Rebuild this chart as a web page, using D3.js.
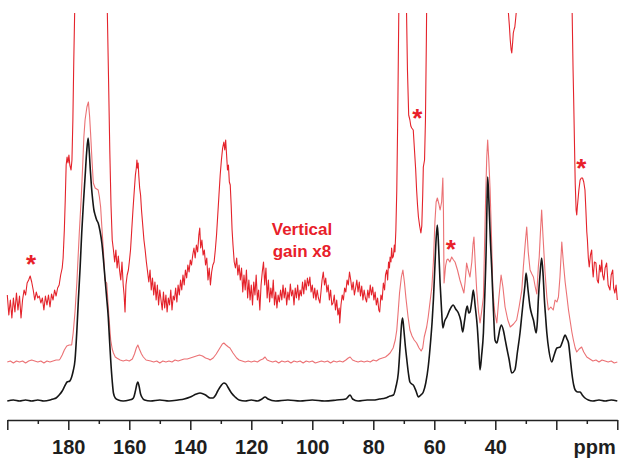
<!DOCTYPE html>
<html>
<head>
<meta charset="utf-8">
<script src="https://cdn.jsdelivr.net/npm/d3@7"></script>
<style>
  html, body { margin: 0; padding: 0; background: #fff; }
  svg { display: block; }
</style>
</head>
<body>
<svg id="chart" width="619" height="458"></svg>
<script>
// ---------------- DATA ----------------
// chemical shift axis
const ppmDomain = [200, 0];
const majorTicks = [200, 180, 160, 140, 120, 100, 80, 60, 40, 20, 0];
const minorTicks = [190, 170, 150, 130, 110, 90, 70, 50, 30, 10];
const tickLabels = [180, 160, 140, 120, 100, 80, 60, 40];
const axisUnit = "ppm";
const gainLabel = ["Vertical", "gain x8"];

// black spectrum [ppm, intensity]
const blackSpectrum = [
  [200,0],[198,1],[196,0],[194,1],[192,0],[190,1],[188,0],[186,1],[185,2],[184,3],[183,6],[182,10],[181,16],
  [180.4,19],[179.5,20],[178.9,24],[178.4,30],[177.8,41],[177.2,70],[176.7,101],[176.1,135],[175.6,168],
  [175,200],[174.5,224],[174,248],[173.5,263],[173.1,248],[172.8,232],[172.4,214],[172,201],[171.6,191],
  [171.2,186],[170.7,181],[170.2,178],[169.6,170],[169,158],[168.5,142],[168,124],[167.5,106],[166.9,84],
  [166.5,62],[166.1,41],[165.6,20],[165.2,8],[164.6,3],[163.6,1],[162,0],[160,1],[159,2],[158.5,4],[158,10],
  [157.5,17],[157.2,19],[156.8,15],[156.3,7],[155.9,4],[155,1],[153,0],[150,1],[147,0],[144,1],[142,2],
  [140,4],[138,7],[136.8,8],[135,6],[133.5,3],[132.5,3],[131.9,5],[131,10],[130,15],[129,18],[128.3,17],
  [127.5,13],[126.5,8],[125.3,4],[124,1],[122,0],[120,1],[118,0],[116.5,2],[115.5,4],[114.5,2],[112,0],
  [108,1],[104,0],[100,1],[96,0],[92,1],[89,2],[87.6,6],[86.8,2],[85,0],[82,1],[80,1],[78,2],[76,3],
  [74.5,5],[73.4,6],[72.6,14],[71.8,28],[71.2,55],[70.7,78],[70.4,83],[70,72],[69.5,55],[69,41],[68.5,28],
  [68,19],[67.4,17],[66.9,16],[66,10],[65.2,4],[64.4,6],[63.6,9],[62.8,18],[62,34],[61.2,60],[60.7,80],
  [60.3,101],[59.8,135],[59.4,162],[59,176],[58.6,155],[58.1,118],[57.6,90],[57.2,73],[56.6,80],[55.9,84],
  [54.8,92],[53.8,96],[53,92],[52.1,88],[51.3,80],[50.7,69],[50.1,80],[49.5,92],[49.2,95],[48.7,88],[48.3,89],
  [47.7,100],[47.2,111],[46.6,95],[45.9,74],[45.4,50],[45,31],[44.5,45],[43.9,68],[43.4,110],[43,151],
  [42.7,200],[42.5,224],[42.1,200],[41.6,160],[41.2,134],[40.6,90],[40.1,61],[39.5,58],[39,64],[38.5,72],
  [38,76],[37.3,70],[36.8,62],[36.3,54],[35.5,42],[34.6,28],[33.6,31],[32.7,50],[31.9,68],[31.3,86],
  [30.8,101],[30.3,115],[29.9,128],[29.3,112],[28.6,94],[28,86],[27.5,81],[26.6,68],[26.2,80],[25.9,101],
  [25.3,128],[24.8,143],[24.3,125],[23.9,101],[23.5,84],[23.1,68],[22.4,50],[21.5,39],[20.8,45],[19.8,53],
  [18.7,54],[17.9,60],[17.1,66],[16.5,62],[16,58],[15.4,42],[14.9,28],[14.3,16],[13.8,11],[13,9],[12.2,9],
  [11.5,6],[10.6,3],[9.5,1],[8,0],[6,1],[4,0],[2,1],[0,0]
];

// thin red spectrum [ppm, intensity]
const redSpectrum = [
  [200,0],[199,1],[198,-1],[197,1],[196,0],[195,1],[194,-1],[193,1],[192,2],[191,1],[190,0],[189,1],[188,-1],
  [187,1],[186,0],[185,1],[184,2],[183,2],[182.7,3],[182,7],[181.3,12],[180.5,16],[179.7,17],[178.9,17],
  [178.4,29],[177.8,50],[177.2,79],[176.8,104],[176.4,129],[175.8,162],[175.3,195],[174.9,225],[174.5,242],
  [173.9,255],[173.4,260],[173,245],[172.7,229],[172.2,200],[171.8,179],[171.2,174],[170.7,173],[170.2,172],
  [169.8,165],[169.4,155],[169,135],[168.5,112],[168,82],[167.7,80],[167.4,79],[166.9,55],[166.5,38],
  [166.1,22],[165.6,13],[165.2,9],[164.6,5],[164.1,4],[163,2],[162,1],[161,2],[160,1],[159,3],[158.3,8],
  [157.7,14],[157.2,17],[156.7,13],[156,8],[155.4,5],[154.5,2],[153,1],[152,0],[151,1],[150,-1],[149,1],
  [148,0],[147,1],[146,0],[145,2],[144,1],[143,2],[142,3],[141,3],[140,4],[139,5],[138,6],[137,7],[136,6],
  [135,4],[134,3],[133.5,2],[132.5,4],[131.5,8],[130.5,13],[129.5,18],[129,19],[128.3,17],[127.5,15],
  [127,14],[126,9],[124.8,4],[124,2],[123,1],[122,0],[121,1],[120,0],[119,1],[118,0],[117,2],[116.2,3],
  [115.5,5],[114.8,2],[114,1],[113,0],[112,1],[111,-1],[110,1],[109,0],[108,1],[107,-1],[106,1],[105,0],
  [104,1],[103,-1],[102,1],[101,0],[100,1],[99,-1],[98,0],[97,1],[96,0],[95,1],[94,-1],[93,1],[92,0],
  [91,1],[90,0],[89,2],[88.2,4],[87.6,5],[86.8,2],[86,1],[85,0],[84,1],[83,0],[82,1],[81,0],[80,2],[79,1],
  [78,3],[77,4],[76,5],[75.2,7],[74.5,9],[73.5,14],[72.8,22],[72.3,32],[71.8,52],[71.4,69],[70.8,85],
  [70.3,92],[69.8,80],[69.3,64],[68.6,45],[68,32],[67.3,26],[66.6,22],[65.8,19],[65,14],[64.3,11],[63.8,14],
  [63.3,25],[62.5,35],[62,45],[61.6,55],[60.8,75],[60.3,100],[59.8,140],[59.4,160],[59,164],[58.5,158],
  [58.1,152],[57.6,160],[57.2,184],[57,150],[56.8,79],[56.3,96],[55.9,102],[55.5,103],[54.9,100],[54.3,105],
  [53.7,102],[53.2,100],[52.4,92],[51.6,82],[50.9,75],[50.3,69],[49.9,80],[49.4,99],[48.9,92],[48.3,85],
  [47.7,100],[47.3,118],[47,125],[46.6,100],[46.1,72],[45.5,50],[45,39],[44.5,50],[43.9,65],[43.5,120],
  [43.1,172],[42.8,205],[42.5,222],[42.1,200],[41.7,172],[41.2,120],[40.8,72],[40.2,50],[39.5,39],[38.8,65],
  [38.1,87],[37.5,75],[36.8,55],[35.9,42],[35.1,35],[34,38],[33,42],[32.2,55],[31.3,72],[30.8,95],[30.2,118],
  [29.7,135],[29.2,110],[28.6,92],[28,88],[27.5,85],[26.9,75],[26.4,68],[25.9,95],[25.6,105],[25.2,130],
  [24.8,152],[24.4,128],[23.7,90],[23.1,65],[22.6,52],[21.8,55],[21,52],[20.4,62],[19.8,60],[19.3,65],
  [18.8,85],[18.2,120],[17.7,100],[17.1,80],[16.5,65],[16,52],[15.5,42],[14.9,30],[14.4,22],[13.8,14],
  [13.3,10],[12.5,13],[11.7,15],[11,10],[10,5],[9,3],[8,1],[7,2],[6,0],[5,2],[4,1],[3,0],[2,1],[1,-1],[0,0]
];

// red spectrum, vertical gain x8 [ppm, intensity]; values above the frame are clipped
const gainSpectrum = [
  [200,5],[199.5,-15],[199,0],[198.5,-18],[198,2],[197.5,-12],[197,7],[196.5,-10],[196,4],[195.5,-18],[195,0],
  [194.5,10],[194,5],[193.5,17],[193,20],[192.5,24],[192,18],[191.5,10],[191,0],[190.5,8],[190,2],[189.5,4],
  [189,-3],[188.5,2],[188,-10],[187.5,4],[187,-5],[186.5,5],[186,-7],[185.5,6],[185,0],[184.5,10],[184,4],
  [183.5,12],[183,15],[182.5,25],[182,32],[181.7,42],[181.3,70],[181,100],[180.7,135],[180.4,143],[180.1,137],
  [179.8,145],[179.5,135],[179.1,130],[178.8,140],[178.5,180],[178.2,240],[177.9,290],[177.6,330],[167.6,330],
  [167.2,287],[166.8,220],[166.4,150],[166,95],[165.6,60],[165.2,50],[164.8,38],[164.4,50],[164,32],[163.6,44],
  [163.2,30],[162.8,20],[162.4,38],[162,15],[161.7,5],[161.4,-12],[161.1,15],[160.7,25],[160.3,30],[160,38],
  [159.6,50],[159.2,70],[158.8,90],[158.4,108],[158,125],[157.7,132],[157.5,140],[157.3,132],[157.1,137],
  [156.9,125],[156.6,112],[156.3,105],[156,90],[155.6,75],[155.2,60],[154.8,50],[154.4,38],[154,28],
  [153.6,18],[153.2,30],[152.8,10],[152.4,22],[152,5],[151.6,18],[151.2,0],[150.8,15],[150.4,-5],[150,10],
  [149.6,0],[149.2,-10],[148.8,8],[148.4,-8],[148,5],[147.6,-12],[147.2,2],[146.8,-5],[146.4,10],[146,-10],
  [145.6,4],[145.2,0],[144.8,12],[144.4,-2],[144,15],[143.6,5],[143.2,20],[142.8,10],[142.4,25],[142,15],
  [141.6,30],[141.2,22],[140.8,35],[140.4,28],[140,40],[139.6,35],[139.2,45],[138.8,52],[138.4,42],[138,55],
  [137.6,48],[137.2,65],[136.9,72],[136.6,52],[136.2,60],[135.8,45],[135.4,50],[135,35],[134.6,42],[134.2,20],
  [133.8,32],[133.4,15],[133,28],[132.6,35],[132.2,38],[131.8,50],[131.4,65],[131,85],[130.6,105],[130.2,125],
  [129.8,140],[129.4,152],[129,158],[128.7,150],[128.4,160],[128.1,145],[127.8,130],[127.5,135],[127.2,118],
  [126.9,115],[126.6,95],[126.3,70],[126,55],[125.6,38],[125.2,32],[124.8,42],[124.4,25],[124,35],[123.6,20],
  [123.2,32],[122.8,8],[122.4,25],[122,10],[121.6,30],[121.2,2],[120.8,20],[120.4,0],[120,15],[119.6,-5],
  [119.2,18],[118.8,5],[118.4,25],[118,0],[117.6,10],[117.2,-10],[116.8,15],[116.4,28],[116,38],[115.6,15],
  [115.2,32],[114.8,2],[114.4,20],[114,-2],[113.6,12],[113.2,2],[112.8,20],[112.4,-5],[112,8],[111.6,-8],
  [111.2,5],[110.8,-2],[110.4,10],[110,0],[109.6,15],[109.2,2],[108.8,12],[108.4,-5],[108,8],[107.6,0],
  [107.2,16],[106.8,4],[106.4,10],[106,-5],[105.6,12],[105.2,2],[104.8,15],[104.4,0],[104,10],[103.6,4],
  [103.2,18],[102.8,6],[102.4,20],[102,10],[101.6,22],[101.2,14],[100.8,23],[100.4,8],[100,15],[99.6,2],
  [99.2,12],[98.8,0],[98.4,10],[98,2],[97.5,-3],[97.1,10],[96.8,20],[96.4,28],[96,15],[95.6,22],[95.2,8],
  [94.8,15],[94.4,0],[94,10],[93.6,-5],[93.2,-3],[92.8,5],[92.4,-10],[92,0],[91.6,-15],[91.2,-8],[91,-23],
  [90.6,-5],[90.2,5],[89.8,0],[89.4,12],[89,8],[88.6,20],[88.2,15],[87.8,28],[87.4,20],[87,10],[86.6,18],
  [86.2,5],[85.8,12],[85.4,20],[85,8],[84.6,18],[84.2,4],[83.8,14],[83.4,0],[83,10],[82.6,2],[82.2,-2],
  [81.8,10],[81.4,2],[81,15],[80.6,5],[80.2,13],[79.8,0],[79.4,8],[79,-5],[78.6,2],[78.2,-10],[77.9,-12],
  [77.5,5],[77.1,0],[76.7,17],[76.3,10],[76,25],[75.6,30],[75.3,20],[75,38],[74.7,32],[74.5,43],[74.2,38],
  [74,52],[73.7,42],[73.4,44],[73.1,55],[72.9,48],[72.6,70],[72.3,110],[72,180],[71.8,240],[71.5,330],
  [69.3,330],[69.1,287],[68.8,230],[68.4,185],[68,180],[67.7,174],[67.4,172],[66.9,170],[66.5,150],[66.1,130],
  [65.8,110],[65.5,95],[65.2,83],[64.8,74],[64.4,67],[64.1,74],[63.8,105],[63.6,133],[63.2,140],[62.9,180],
  [62.6,260],[62.4,330],[35.9,330],[35.7,287],[35.4,275],[35.1,260],[34.8,250],[34.6,247],[34.3,258],
  [34.1,267],[33.8,271],[33.6,273],[33.3,282],[33,292],[32.8,330],[15,330],[14.8,287],[14.5,230],[14.3,200],
  [14,150],[13.8,117],[13.5,90],[13.3,85],[13.1,93],[12.6,110],[12.2,120],[11.8,122],[11.4,122],[11,118],
  [10.6,110],[10.3,90],[10,68],[9.8,60],[9.5,42],[9.2,33],[8.8,45],[8.4,50],[8.1,30],[7.9,23],[7.5,38],
  [7,37],[6.6,20],[6.2,17],[5.8,35],[5.4,28],[5.1,40],[4.8,25],[4.4,20],[4,32],[3.5,37],[3,15],[2.4,10],
  [2,25],[1.5,30],[1.2,12],[0.8,7],[0.4,15],[0,0]
];

// spinning-sideband markers [ppm, intensity on the gain trace scale]
const sidebandMarks = [[192.2, 42], [65.6, 188], [54.6, 57], [11.8, 138]];

// ---------------- DRAWING ----------------
const W = 619, H = 458;
const svg = d3.select("#chart");
const x = d3.scaleLinear().domain(ppmDomain).range([7.3, 617.3]);
const y = d3.scaleLinear().domain([0, 400]).range([401, 1]);
const offsets = { black: 0, red: 39, gain: 101 };

svg.append("defs").append("clipPath").attr("id", "plotClip")
  .append("rect").attr("x", 0).attr("y", 13).attr("width", W).attr("height", 405);

const plot = svg.append("g").attr("clip-path", "url(#plotClip)");

function lineFor(off, curve) {
  return d3.line().x(d => x(d[0])).y(d => y(d[1] + off)).curve(curve);
}

plot.append("path").datum(redSpectrum)
  .attr("d", lineFor(offsets.red, d3.curveLinear))
  .attr("fill", "none").attr("stroke", "#e8585c").attr("stroke-width", 1.1)
  .attr("stroke-opacity", 0.85).attr("stroke-linejoin", "round");

plot.append("path").datum(gainSpectrum)
  .attr("d", lineFor(offsets.gain, d3.curveLinear))
  .attr("fill", "none").attr("stroke", "#e4232b").attr("stroke-width", 1.1)
  .attr("stroke-linejoin", "round");

plot.append("path").datum(blackSpectrum)
  .attr("d", lineFor(offsets.black, d3.curveMonotoneX))
  .attr("fill", "none").attr("stroke", "#161616").attr("stroke-width", 1.6)
  .attr("stroke-linejoin", "round");

// sideband asterisks
svg.append("g").selectAll("text").data(sidebandMarks).join("text")
  .attr("x", d => x(d[0]))
  .attr("y", d => y(d[1] + offsets.gain) + 14.5)
  .attr("text-anchor", "middle")
  .attr("font-family", "'Liberation Sans', Arial, sans-serif")
  .attr("font-weight", "bold").attr("font-size", 26)
  .attr("fill", "#e8202a")
  .text("*");

// gain label
svg.append("g").selectAll("text").data(gainLabel).join("text")
  .attr("x", 302).attr("y", (d, i) => 235 + i * 22)
  .attr("text-anchor", "middle")
  .attr("font-family", "'Liberation Sans', Arial, sans-serif")
  .attr("font-weight", "bold").attr("font-size", 17)
  .attr("fill", "#e8202a")
  .text(d => d);

// axis
const axisY = 420;
const minorAxis = d3.axisBottom(x).tickValues(minorTicks).tickSize(4).tickFormat("");
const majorAxis = d3.axisBottom(x).tickValues(majorTicks).tickSizeInner(10).tickSizeOuter(0)
  .tickPadding(10)
  .tickFormat(d => tickLabels.includes(d) ? d : "");

const gMinor = svg.append("g").attr("transform", `translate(0,${axisY})`).call(minorAxis);
gMinor.select(".domain").remove();
const gMajor = svg.append("g").attr("transform", `translate(0,${axisY})`).call(majorAxis);

[gMinor, gMajor].forEach(g => {
  g.selectAll("line").attr("stroke", "#222").attr("stroke-width", 1.5);
});
gMajor.select(".domain").attr("stroke", "#222").attr("stroke-width", 1.5);
gMajor.selectAll("text")
  .attr("font-family", "'Liberation Sans', Arial, sans-serif")
  .attr("font-weight", "bold").attr("font-size", 20).attr("fill", "#1e1e1e")
  .attr("dy", null).attr("y", 34);

svg.append("text")
  .attr("x", x(7.4)).attr("y", axisY + 34)
  .attr("text-anchor", "middle")
  .attr("font-family", "'Liberation Sans', Arial, sans-serif")
  .attr("font-weight", "bold").attr("font-size", 20).attr("fill", "#1e1e1e")
  .text(axisUnit);
</script>
</body>
</html>
